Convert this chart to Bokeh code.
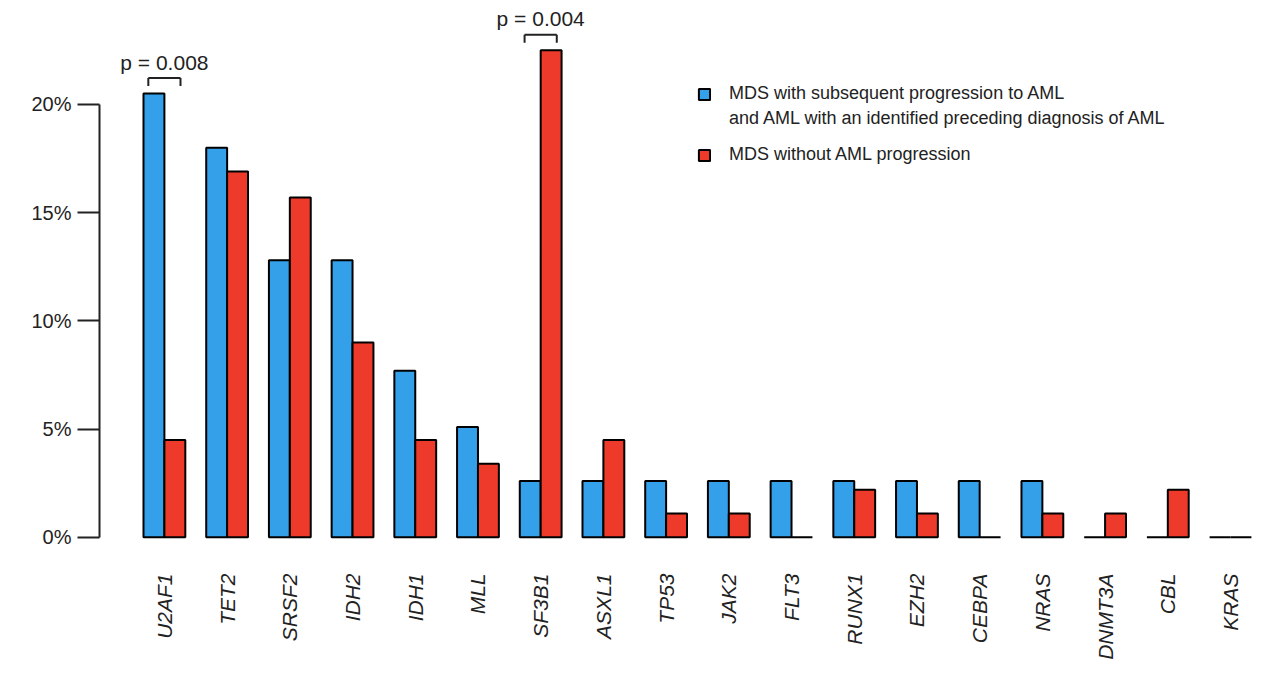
from bokeh.plotting import figure
from bokeh.models import (ColumnDataSource, FixedTicker, PrintfTickFormatter, Range1d,
                          Legend, LegendItem, LinearAxis)
from bokeh.embed import file_html
from bokeh.resources import INLINE

genes = ["U2AF1", "TET2", "SRSF2", "IDH2", "IDH1", "MLL", "SF3B1", "ASXL1", "TP53",
         "JAK2", "FLT3", "RUNX1", "EZH2", "CEBPA", "NRAS", "DNMT3A", "CBL", "KRAS"]
progressed = [20.5, 18.0, 12.8, 12.8, 7.7, 5.1, 2.6, 2.6, 2.6,
              2.6, 2.6, 2.6, 2.6, 2.6, 2.6, 0.0, 0.0, 0.0]
not_progressed = [4.5, 16.9, 15.7, 9.0, 4.5, 3.4, 22.5, 4.5, 1.1,
                  1.1, 0.0, 2.2, 1.1, 0.0, 1.1, 1.1, 2.2, 0.0]
pval_genes = ["U2AF1", "SF3B1"]
pval_text = ["p = 0.008", "p = 0.004"]
y_ticks = [0, 5, 10, 15, 20]
label_blue_1 = "MDS with subsequent progression to AML"
label_blue_2 = "and AML with an identified preceding diagnosis of AML"
label_red = "MDS without AML progression"

BLUE = "#35a0ea"
RED = "#ee3a2b"
TXT = "#222222"
FONT = "Liberation Sans"

centers = [3 * i + 2 for i in range(len(genes))]
src = ColumnDataSource(dict(
    gene=genes,
    xb=[c - 0.5 for c in centers],
    xr=[c + 0.5 for c in centers],
    blue=progressed,
    red=not_progressed,
))

p = figure(frame_width=1163, frame_height=531, output_backend="svg", toolbar_location=None,
           x_range=Range1d(-1.105, 54.53), y_range=Range1d(-0.1, 24.43),
           min_border_left=99, min_border_right=2, min_border_top=8, min_border_bottom=110,
           y_axis_location=None)
p.outline_line_color = None
p.xgrid.visible = False
p.ygrid.visible = False
p.background_fill_color = "white"

rb = p.vbar(x="xb", top="blue", bottom=0, width=1, source=src,
            fill_color=BLUE, line_color="black", line_width=2)
rr = p.vbar(x="xr", top="red", bottom=0, width=1, source=src,
            fill_color=RED, line_color="black", line_width=2)
dummy = p.scatter(x=[], y=[], fill_alpha=0, line_alpha=0)

# y axis
yax = LinearAxis(bounds=(0, 20), ticker=FixedTicker(ticks=y_ticks),
                 formatter=PrintfTickFormatter(format="%d%%"))
yax.axis_line_width = 2
yax.axis_line_color = TXT
yax.major_tick_line_width = 2
yax.major_tick_line_color = TXT
yax.major_tick_out = 22
yax.major_tick_in = 0
yax.minor_tick_line_color = None
yax.major_label_standoff = 6
yax.major_label_text_font = FONT
yax.major_label_text_font_size = "20px"
yax.major_label_text_color = TXT
p.add_layout(yax, "left")

# x axis
xax = p.xaxis[0]
xax.ticker = FixedTicker(ticks=centers)
xax.major_label_overrides = {c: g for c, g in zip(centers, genes)}
xax.axis_line_color = None
xax.major_tick_line_color = None
xax.minor_tick_line_color = None
xax.major_label_orientation = 3.14159265 / 2
xax.major_label_standoff = 28
xax.major_label_text_font = FONT
xax.major_label_text_font_style = "italic"
xax.major_label_text_font_size = "21px"
xax.major_label_text_color = TXT

# p-value brackets and labels
bx0, bx1, by_top, by_bot, ty = [], [], [], [], []
for g in pval_genes:
    i = genes.index(g)
    c = centers[i]
    m = max(progressed[i], not_progressed[i])
    bx0.append(c - 0.77)
    bx1.append(c + 0.77)
    by_top.append(m + 0.72)
    by_bot.append(m + 0.35)
    ty.append(m + 1.45)
psrc = ColumnDataSource(dict(x0=bx0, x1=bx1, yt=by_top, yb=by_bot, ty=ty,
                             tx=[(a + b) / 2 for a, b in zip(bx0, bx1)], t=pval_text))
p.segment(x0="x0", y0="yt", x1="x1", y1="yt", source=psrc, line_color=TXT, line_width=2)
p.segment(x0="x0", y0="yt", x1="x0", y1="yb", source=psrc, line_color=TXT, line_width=2)
p.segment(x0="x1", y0="yt", x1="x1", y1="yb", source=psrc, line_color=TXT, line_width=2)
p.text(x="tx", y="ty", text="t", source=psrc, text_align="center", text_baseline="middle",
       text_font={"value": FONT}, text_font_size="21px", text_color=TXT)

# legends
def mk_legend(items, loc):
    lg = Legend(items=items, location=loc)
    lg.border_line_color = None
    lg.background_fill_alpha = 0
    lg.margin = 0
    lg.padding = 0
    lg.spacing = 0
    lg.glyph_width = 14
    lg.glyph_height = 14
    lg.label_height = 25
    lg.label_standoff = 18
    lg.label_text_font = FONT
    lg.label_text_font_size = "18px"
    lg.label_text_color = TXT
    lg.label_text_baseline = "middle"
    return lg

lg1 = mk_legend([LegendItem(label=label_blue_1, renderers=[rb]),
                 LegendItem(label=label_blue_2, renderers=[dummy])], (598, 408))
lg2 = mk_legend([LegendItem(label=label_red, renderers=[rr])], (598, 372))
p.add_layout(lg1, "center")
p.add_layout(lg2, "center")

open("out.html", "w").write(file_html(p, INLINE))
